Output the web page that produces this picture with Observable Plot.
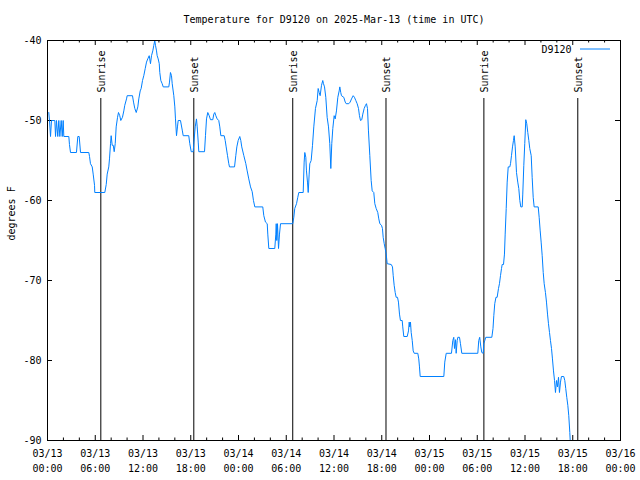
<!DOCTYPE html>
<html>
<head>
<meta charset="utf-8">
<script src="https://cdn.jsdelivr.net/npm/d3@7"></script>
<script src="https://cdn.jsdelivr.net/npm/@observablehq/plot@0.6"></script>
<style>
  html, body { margin: 0; padding: 0; background: #ffffff; }
  svg { display: block; }
</style>
</head>
<body>
<div id="chart"></div>
<script>
// ---- Data ----
const chartTitle = "Temperature for D9120 on 2025-Mar-13 (time in UTC)";
const yAxisLabel = "degrees F";
const seriesName = "D9120";
const startTime = "2025-03-13T00:00:00Z";
const endTime = "2025-03-16T00:00:00Z";

// hours since 2025-03-13 00:00 UTC
const hoursSinceStart = [
  0.16, 0.25, 0.38, 0.50, 0.92, 1.01, 1.13, 1.29, 1.42, 1.55,
  1.72, 1.85, 1.97, 2.05, 2.68, 2.76, 2.89, 3.64, 3.81, 3.98,
  4.15, 5.19, 5.28, 5.40, 5.62, 5.74, 5.91, 5.94, 7.20, 7.38,
  7.50, 7.70, 7.79, 7.92, 8.00, 8.13, 8.26, 8.38, 8.51, 8.63,
  8.80, 8.92, 9.08, 9.21, 9.42, 9.59, 9.71, 9.93, 10.01, 10.68,
  10.81, 10.97, 11.15, 11.35, 11.47, 11.65, 11.77, 11.94, 12.10, 12.28,
  12.44, 12.60, 12.78, 12.85, 12.94, 13.07, 13.23, 13.36, 13.48, 13.57,
  13.70, 13.78, 13.91, 14.04, 14.11, 14.24, 14.41, 14.54, 15.24, 15.33,
  15.45, 15.58, 15.67, 15.87, 16.00, 16.08, 16.21, 16.33, 16.42, 16.71,
  16.93, 17.05, 17.75, 17.88, 18.06, 18.31, 18.38, 18.56, 18.72, 18.81,
  18.94, 19.01, 19.73, 19.85, 19.98, 20.14, 20.32, 20.48, 20.77, 20.90,
  21.02, 21.15, 21.32, 21.52, 21.65, 21.78, 22.20, 22.33, 22.45, 22.62,
  22.78, 22.87, 23.50, 23.66, 23.79, 23.96, 24.16, 24.29, 24.41, 24.67,
  24.92, 25.09, 25.29, 25.51, 25.72, 25.88, 26.05, 27.05, 27.18, 27.39,
  27.61, 27.68, 27.81, 28.56, 28.69, 28.74, 28.81, 28.90, 29.03, 29.15,
  29.28, 30.82, 30.95, 31.07, 31.29, 31.45, 31.58, 32.13, 32.25, 32.33,
  32.46, 32.54, 32.67, 32.76, 32.88, 32.96, 33.13, 33.30, 33.46, 33.67,
  33.89, 34.01, 34.14, 34.26, 34.43, 34.59, 34.68, 34.81, 34.97, 35.14,
  35.31, 35.47, 35.60, 35.72, 35.85, 36.02, 36.15, 36.31, 36.48, 36.65,
  36.73, 36.85, 36.94, 37.23, 37.41, 37.53, 37.86, 38.03, 38.20, 38.41,
  38.57, 38.74, 38.91, 39.08, 39.20, 39.33, 39.49, 39.62, 39.79, 39.96,
  40.08, 40.21, 40.33, 40.50, 40.67, 40.80, 41.00, 41.13, 41.30, 41.50,
  41.63, 41.76, 41.97, 42.09, 42.18, 42.31, 42.43, 42.56, 42.68, 43.19,
  43.35, 43.44, 43.56, 43.69, 43.81, 43.98, 44.10, 44.23, 44.35, 44.57,
  44.64, 44.77, 45.20, 45.36, 45.45, 45.52, 45.61, 45.70, 45.83, 45.95,
  46.08, 46.53, 46.65, 46.74, 46.83, 49.80, 49.92, 50.10, 50.76, 50.93,
  51.05, 51.14, 51.27, 51.35, 51.48, 51.56, 51.77, 51.89, 52.06, 54.07,
  54.19, 54.31, 54.45, 54.57, 54.75, 54.82, 54.95, 55.07, 55.83, 55.98,
  56.08, 56.20, 56.35, 56.50, 56.67, 56.79, 56.92, 57.05, 57.13, 57.30,
  57.42, 57.51, 57.64, 57.76, 57.89, 58.09, 58.18, 58.30, 58.43, 58.55,
  58.64, 58.77, 58.93, 59.09, 59.22, 59.35, 59.47, 59.65, 59.72, 59.85,
  59.97, 60.10, 60.22, 60.35, 60.48, 60.60, 60.78, 60.90, 61.03, 61.15,
  61.66, 61.78, 61.91, 62.03, 62.16, 62.29, 62.41, 62.57, 62.70, 62.83,
  62.95, 63.08, 63.20, 63.33, 63.45, 63.58, 63.71, 63.83, 63.96, 64.08,
  64.21, 64.33, 64.46, 64.58, 64.87, 65.00, 65.12, 65.25, 65.38, 65.50,
  65.63, 65.68
];

const tempF = [
  -49, -50, -52, -50, -50, -52, -50, -52, -50, -52,
  -50, -52, -50, -52, -52, -53, -54, -54, -52, -52,
  -54, -54, -54.5, -55.4, -55.8, -56.7, -58.1, -59, -59, -58,
  -56.7, -55.8, -54.8, -52.9, -51.9, -53.1, -53.1, -53.9, -52.9, -50.8,
  -49.6, -49, -49.4, -50, -49.6, -48.8, -48.1, -47.3, -46.9, -46.9,
  -47.7, -48.5, -49, -48.3, -47.3, -46.3, -46, -45, -44.4, -43.5,
  -42.7, -42.3, -41.9, -42.3, -42.9, -41.9, -41.3, -40.6, -40, -40.6,
  -41.3, -41.9, -42.3, -42.9, -44, -45, -45.4, -45.8, -45.8, -45.2,
  -44, -44.4, -45.4, -46.9, -48.3, -49.8, -51.9, -50.8, -50, -50,
  -51.2, -51.9, -51.9, -52.9, -53.9, -53.9, -52.9, -50.8, -49.8, -50.8,
  -52.7, -53.9, -53.9, -51.9, -49.8, -49, -49.4, -49.9, -49.9, -49.2,
  -49, -49.4, -49.8, -50, -50.8, -51.9, -51.9, -52.5, -53.3, -54.4,
  -55.4, -55.8, -55.8, -54.4, -53.3, -52.5, -52, -52.5, -53.3, -54.4,
  -55.4, -56.3, -57.3, -58.3, -58.9, -60, -60.8, -60.8, -61.9, -62.7,
  -62.9, -64.2, -66, -66, -64.2, -62.9, -65, -62.9, -66, -64.2,
  -62.9, -62.9, -62.1, -61, -60.4, -59.6, -59, -59, -55.2, -54,
  -54.6, -56.3, -57.7, -59, -56.7, -55.4, -55, -53.1, -50.8, -48.5,
  -47.5, -46, -46.5, -46.9, -45.6, -45, -45.4, -45.8, -47.1, -49.6,
  -50.8, -52.9, -56, -52.9, -51, -49.4, -49.8, -48.8, -47.1, -46.3,
  -45.8, -46.5, -46.9, -47.1, -47.7, -47.9, -47.9, -47.7, -47.3, -46.9,
  -47.1, -47.5, -47.9, -48.5, -49.4, -50, -49.9, -49.2, -48.5, -48.1,
  -47.9, -48.5, -51.3, -54.4, -57.5, -58.8, -59, -60.4, -61, -61.5,
  -62.3, -62.9, -63.1, -63.5, -64.6, -65.4, -66, -66.7, -67.9, -68,
  -68.3, -69.4, -70.6, -71.5, -72.1, -72.1, -72.7, -74.2, -75, -75,
  -75.8, -77, -77, -76.3, -75.2, -75.8, -75.2, -76.5, -77.5, -78.8,
  -79.1, -79.1, -79.8, -80.8, -82, -82, -80.2, -79.1, -79.1, -77.5,
  -77.1, -78.5, -77.4, -79.1, -77.5, -77.1, -77.1, -77.9, -79.1, -79.1,
  -77.5, -77.1, -78.3, -79, -79.1, -77.9, -77.5, -77.1, -77.1, -76,
  -74.4, -72.9, -72.1, -72.1, -71, -70.4, -69.4, -68.5, -68, -68,
  -66.7, -64.2, -61, -57.7, -55.8, -55.8, -55.4, -54.4, -53.3, -52.5,
  -51.9, -53.3, -56.5, -57.7, -58.5, -60, -60.8, -60.8, -59.2, -55.6,
  -52.9, -49.9, -50.4, -51.5, -52.5, -53.5, -54.4, -57.1, -59.6, -60.8,
  -60.8, -62.1, -63.8, -65.2, -66.9, -69, -70.4, -71.5, -72.7, -74.2,
  -75.4, -76.5, -77.5, -78.5, -79.8, -81.3, -82.5, -84, -82.5, -83.3,
  -82.1, -84, -82.7, -82, -82, -82.5, -83.5, -84.6, -85.6, -86.9,
  -89, -90
];

const sunTimes = [
  "2025-03-13T06:42:00Z", "2025-03-13T18:23:00Z",
  "2025-03-14T06:49:00Z", "2025-03-14T18:32:00Z",
  "2025-03-15T06:50:00Z", "2025-03-15T18:38:00Z"
];
const sunLabels = ["Sunrise", "Sunset", "Sunrise", "Sunset", "Sunrise", "Sunset"];

const yTicks = [-40, -50, -60, -70, -80, -90];

// ---- Build tables ----
const t0 = Date.parse(startTime);
const t1 = Date.parse(endTime);
const n = Math.min(hoursSinceStart.length, tempF.length);
const series = [];
for (let i = 0; i < n; i++) {
  series.push({time: new Date(t0 + hoursSinceStart[i] * 3600e3), temp: tempF[i]});
}
const sunEvents = sunTimes.map((t, i) => ({time: new Date(t), label: sunLabels[i]}));
const majorTicks = d3.utcHour.every(6).range(new Date(t0), new Date(t1 + 1));
const minorTicks = d3.utcHour.every(2).range(new Date(t0), new Date(t1 + 1))
  .filter(d => d.getUTCHours() % 6 !== 0);
const fmtTick = d3.utcFormat("%m/%d\n%H:%M");

const lineColor = "#0080ff";
const W = 640, H = 480, ML = 47, MR = 20, MT = 40, MB = 40;
const plotW = W - ML - MR, plotH = H - MT - MB;

const chart = Plot.plot({
  width: W,
  height: H,
  marginLeft: ML,
  marginRight: MR,
  marginTop: MT,
  marginBottom: MB,
  style: {fontFamily: "'DejaVu Sans Mono', monospace", fontSize: "10px", background: "#ffffff", color: "#000000"},
  x: {type: "utc", domain: [new Date(t0), new Date(t1)], axis: null},
  y: {domain: [-90, -40], axis: null},
  marks: [
    // x ticks (inward, bottom and top)
    Plot.tickX(majorTicks, {x: d => d, insetTop: plotH - 5, stroke: "#000"}),
    Plot.tickX(majorTicks, {x: d => d, insetBottom: plotH - 5, stroke: "#000"}),
    Plot.tickX(minorTicks, {x: d => d, insetTop: plotH - 2.5, stroke: "#000"}),
    Plot.tickX(minorTicks, {x: d => d, insetBottom: plotH - 2.5, stroke: "#000"}),
    // y ticks (inward, left and right)
    Plot.tickY(yTicks, {y: d => d, insetRight: plotW - 5, stroke: "#000"}),
    Plot.tickY(yTicks, {y: d => d, insetLeft: plotW - 5, stroke: "#000"}),
    // sunrise / sunset markers
    Plot.ruleX(sunEvents, {x: "time", insetTop: 58, stroke: "#000", strokeWidth: 1}),
    Plot.text(sunEvents, {x: "time", text: "label", rotate: -90, frameAnchor: "top", dy: 52, dx: 1, textAnchor: "start", lineAnchor: "middle", fill: "#000"}),
    // data
    Plot.line(series, {x: "time", y: "temp", stroke: lineColor, strokeWidth: 1}),
    Plot.frame({stroke: "#000"}),
    // tick labels
    Plot.text(yTicks, {y: d => d, text: d => String(d), frameAnchor: "left", dx: -6, textAnchor: "end", lineAnchor: "middle", fill: "#000"}),
    Plot.text(majorTicks, {x: d => d, text: d => fmtTick(d), frameAnchor: "bottom", dy: 5.5, lineAnchor: "top", lineHeight: 1.5, fill: "#000"}),
    // titles
    Plot.text([chartTitle], {frameAnchor: "top", dy: -21, lineAnchor: "middle", fill: "#000"}),
    Plot.text([yAxisLabel], {frameAnchor: "left", dx: -36, rotate: -90, lineAnchor: "middle", fill: "#000"}),
    // legend label
    Plot.text([seriesName], {frameAnchor: "top-right", dx: -49, dy: 9, textAnchor: "end", lineAnchor: "middle", fill: "#000"})
  ]
});

// legend sample line
d3.select(chart).append("line")
  .attr("x1", W - MR - 40).attr("x2", W - MR - 10)
  .attr("y1", MT + 9).attr("y2", MT + 9)
  .attr("stroke", lineColor).attr("stroke-width", 1);

document.getElementById("chart").appendChild(chart);
</script>
</body>
</html>
